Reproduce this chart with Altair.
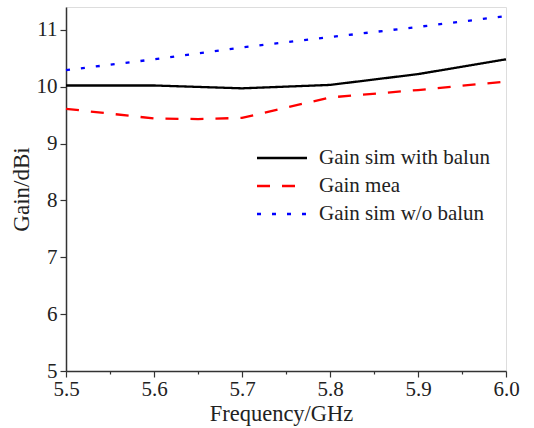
import altair as alt
import pandas as pd

freq = [5.5, 5.6, 5.7, 5.8, 5.9, 6.0]
gain_sim_balun = [10.02, 10.02, 9.97, 10.03, 10.22, 10.48]
freq_mea = [5.5, 5.6, 5.65, 5.7, 5.8, 5.9, 6.0]
gain_mea = [9.61, 9.44, 9.43, 9.45, 9.81, 9.94, 10.09]
gain_sim_no_balun = [10.29, 10.48, 10.69, 10.87, 11.05, 11.24]

series_names = ["Gain sim with balun", "Gain mea", "Gain sim w/o balun"]
series_colors = ["#000000", "#ff0000", "#0000ff"]
series_dash = [[1, 0], [13, 12], [4, 11]]

x_ticks = [round(5.5 + 0.05 * i, 2) for i in range(11)]
y_ticks = [5 + 0.5 * i for i in range(13)]

rows = []
for f, g in zip(freq, gain_sim_balun):
    rows.append({"f": f, "g": g, "s": series_names[0]})
for f, g in zip(freq_mea, gain_mea):
    rows.append({"f": f, "g": g, "s": series_names[1]})
for f, g in zip(freq, gain_sim_no_balun):
    rows.append({"f": f, "g": g, "s": series_names[2]})
df = pd.DataFrame(rows)

FONT = "Liberation Serif"

chart = alt.Chart(df).mark_line(strokeWidth=2.3).encode(
    x=alt.X("f:Q", title="Frequency/GHz",
            scale=alt.Scale(domain=[5.5, 6.0], nice=False, zero=False),
            axis=alt.Axis(values=x_ticks, grid=False, format=".1f",
                          labelExpr="round(datum.value*100) % 10 == 0 ? datum.label : ''",
                          tickSize={"condition": {"test": "round(datum.value*100) % 10 == 0", "value": 6}, "value": 3},
                          labelFont=FONT, labelFontSize=21, labelColor="#222",
                          titleFont=FONT, titleFontSize=22.5, titleFontWeight="normal", titleColor="#222",
                          titlePadding=3, labelPadding=1, labelFlush=False,
                          titleX=215, titleAlign="center",
                          domainColor="#333", tickColor="#333", domainWidth=1.5, tickWidth=1.2)),
    y=alt.Y("g:Q", title="Gain/dBi",
            scale=alt.Scale(domain=[5, 11.4], nice=False, zero=False),
            axis=alt.Axis(values=y_ticks, grid=False, format="d",
                          labelExpr="datum.value % 1 == 0 ? datum.label : ''",
                          tickSize={"condition": {"test": "datum.value % 1 == 0", "value": 6}, "value": 3},
                          labelFont=FONT, labelFontSize=21, labelColor="#222",
                          titleFont=FONT, titleFontSize=23, titleFontWeight="normal", titleColor="#222",
                          titlePadding=3, labelPadding=3,
                          domainColor="#333", tickColor="#333", domainWidth=1.5, tickWidth=1.2)),
    color=alt.Color("s:N", scale=alt.Scale(domain=series_names, range=series_colors),
                    sort=series_names,
                    legend=alt.Legend(title=None, orient="none", legendX=202, legendY=137,
                                      symbolType="M-2,0H2", symbolSize=625, symbolStrokeWidth=2.3,
                                      labelFont=FONT, labelFontSize=21, labelColor="#222",
                                      labelLimit=0, labelOffset=23, rowPadding=4, padding=0)),
    strokeDash=alt.StrokeDash("s:N", scale=alt.Scale(domain=series_names, range=series_dash),
                              sort=series_names, legend=None),
    detail="s:N",
).properties(
    width=440, height=364,
    autosize=alt.AutoSizeParams(type="none"),
    padding={"left": 66, "top": 7, "right": 28, "bottom": 57},
).configure_view(stroke=None).configure(background="white")

chart.save("out.html", embed_options={"renderer": "svg", "actions": False})
